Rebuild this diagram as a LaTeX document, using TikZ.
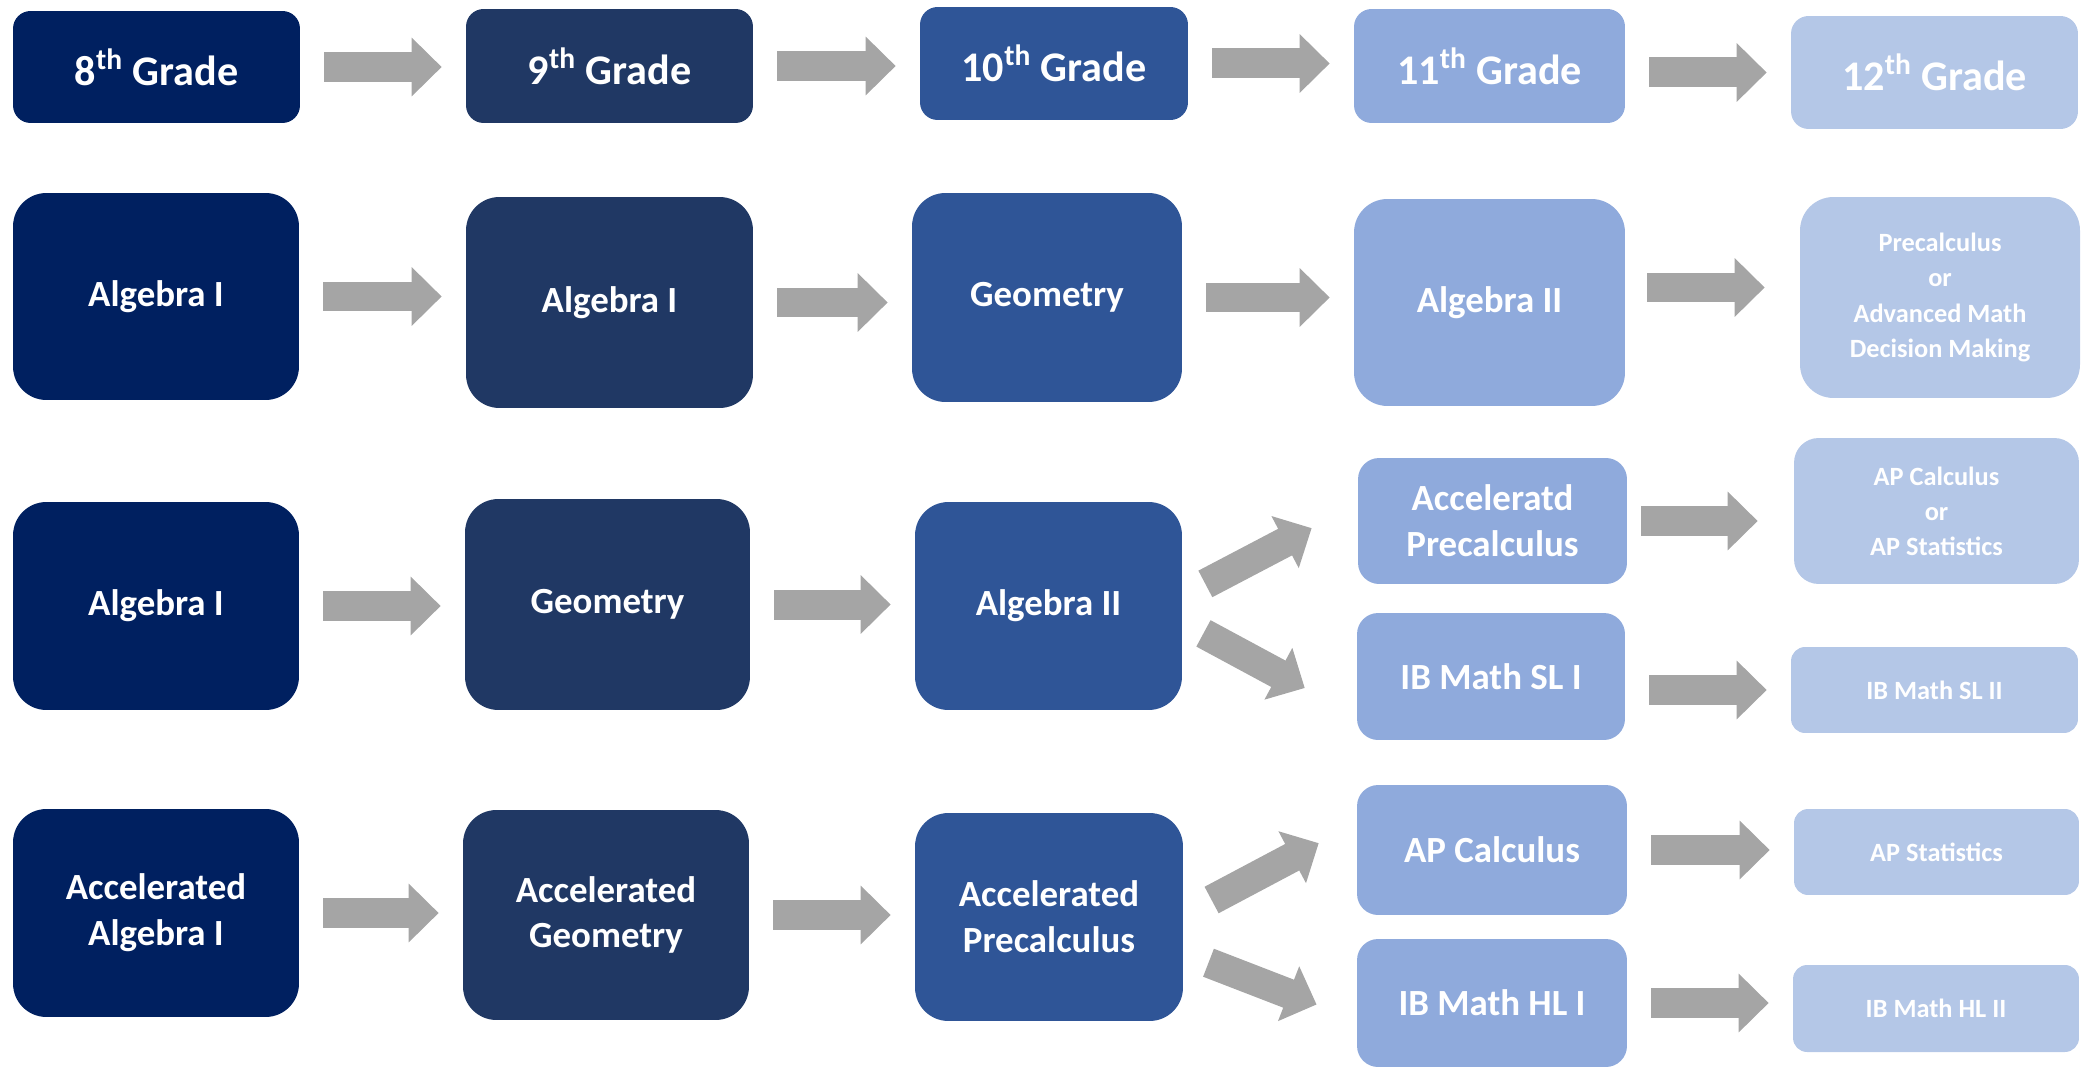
\documentclass[tikz,border=0pt]{standalone}
\usepackage{fontspec}
\setmainfont{Carlito}
\usetikzlibrary{arrows.meta}
\definecolor{navy}{HTML}{002060}
\definecolor{slateblue}{HTML}{203864}
\definecolor{midblue}{HTML}{2F5597}
\definecolor{lightblue}{HTML}{8FAADC}
\definecolor{paleblue}{HTML}{B4C7E7}
\definecolor{arrowgray}{HTML}{A5A5A5}

\begin{document}
\begin{tikzpicture}[x=0.02cm,y=-0.02cm,
  box/.style={text=white,align=center,inner sep=2pt},
  grade/.style={box,rounded corners=10pt,font=\bfseries\fontsize{24}{29}\selectfont},
  course/.style={box,rounded corners=19pt,font=\bfseries\fontsize{21}{26}\selectfont},
  halfcourse/.style={box,rounded corners=12pt,font=\bfseries\fontsize{21}{26}\selectfont},
  senior/.style={box,rounded corners=#1,font=\bfseries\fontsize{15}{20}\selectfont},
  blockarrow/.style={draw=arrowgray,line width=0.6cm,-{Triangle[length=0.6cm,width=1.14cm]},
    shorten <=0.48cm,shorten >=0.48cm}]
\useasboundingbox (0,0) rectangle (2082,1067);

% grade headers
\node[grade,fill=navy,minimum width=5.74cm,minimum height=2.24cm] (g8) at (156.5,67) {8\textsuperscript{th} Grade};
\node[grade,fill=slateblue,minimum width=5.74cm,minimum height=2.28cm] (g9) at (609.5,66) {9\textsuperscript{th} Grade};
\node[grade,fill=midblue,minimum width=5.36cm,minimum height=2.26cm] (g10) at (1054,63.5) {10\textsuperscript{th} Grade};
\node[grade,fill=lightblue,minimum width=5.42cm,minimum height=2.28cm] (g11) at (1489.5,66) {11\textsuperscript{th} Grade};
\node[grade,fill=paleblue,minimum width=5.74cm,minimum height=2.26cm] (g12) at (1934.5,72.5) {12\textsuperscript{th} Grade};

% track 1
\node[course,fill=navy,minimum width=5.72cm,minimum height=4.14cm] (r2c1) at (156,296.5) {Algebra I};
\node[course,fill=slateblue,minimum width=5.74cm,minimum height=4.22cm] (r2c2) at (609.5,302.5) {Algebra I};
\node[course,fill=midblue,minimum width=5.4cm,minimum height=4.18cm] (r2c3) at (1047,297.5) {Geometry};
\node[course,fill=lightblue,minimum width=5.42cm,minimum height=4.14cm] (r2c4) at (1489.5,302.5) {Algebra II};
\node[senior=19pt,fill=paleblue,minimum width=5.6cm,minimum height=4.02cm] (r2c5) at (1940,297.5) {Precalculus\\or\\Advanced Math\\Decision Making};

% track 2
\node[course,fill=navy,minimum width=5.72cm,minimum height=4.16cm] (r3c1) at (156,606) {Algebra I};
\node[course,fill=slateblue,minimum width=5.7cm,minimum height=4.22cm] (r3c2) at (607.5,604.5) {Geometry};
\node[course,fill=midblue,minimum width=5.34cm,minimum height=4.16cm] (r3c3) at (1048.5,606) {Algebra II};
\node[halfcourse,fill=lightblue,minimum width=5.38cm,minimum height=2.52cm] (r3c4a) at (1492.5,521) {Acceleratd\\Precalculus};
\node[halfcourse,fill=lightblue,minimum width=5.36cm,minimum height=2.54cm] (r3c4b) at (1491,676.5) {IB Math SL I};
\node[senior=14pt,fill=paleblue,minimum width=5.7cm,minimum height=2.92cm] (r3c5a) at (1936.5,511) {AP Calculus\\or\\AP Statistics};
\node[senior=8pt,fill=paleblue,minimum width=5.74cm,minimum height=1.72cm] (r3c5b) at (1934.5,690) {IB Math SL II};

% track 3
\node[course,fill=navy,minimum width=5.72cm,minimum height=4.16cm] (r4c1) at (156,913) {Accelerated\\Algebra I};
\node[course,fill=slateblue,minimum width=5.72cm,minimum height=4.2cm] (r4c2) at (606,915) {Accelerated\\Geometry};
\node[course,fill=midblue,minimum width=5.36cm,minimum height=4.16cm] (r4c3) at (1049,917) {Accelerated\\Precalculus};
\node[halfcourse,fill=lightblue,minimum width=5.4cm,minimum height=2.6cm] (r4c4a) at (1492,850) {AP Calculus};
\node[halfcourse,fill=lightblue,minimum width=5.4cm,minimum height=2.56cm] (r4c4b) at (1492,1003) {IB Math HL I};
\node[senior=8pt,fill=paleblue,minimum width=5.7cm,minimum height=1.72cm] (r4c5a) at (1936.5,852) {AP Statistics};
\node[senior=8pt,fill=paleblue,minimum width=5.72cm,minimum height=1.74cm] (r4c5b) at (1936,1008.5) {IB Math HL II};

% arrows
\draw[blockarrow] (g8.east) -- (g8.east -| g9.west);
\draw[blockarrow] (g9.east) -- (g9.east -| g10.west);
\draw[blockarrow] (g10.east) -- (g10.east -| g11.west);
\draw[blockarrow] (g12.west -| g11.east) -- (g12.west);

\draw[blockarrow] (r2c1.east) -- (r2c1.east -| r2c2.west);
\draw[blockarrow] (r2c2.east) -- (r2c2.east -| r2c3.west);
\draw[blockarrow] (r2c3.east) -- (r2c3.east -| r2c4.west);
\draw[blockarrow,shorten <=0.44cm,shorten >=0.7cm,transform canvas={yshift=0.3cm}] (r2c4.east) -- (r2c4.east -| r2c5.west);

\draw[blockarrow] (r3c1.east) -- (r3c1.east -| r3c2.west);
\draw[blockarrow] (r3c2.east) -- (r3c2.east -| r3c3.west);
\draw[blockarrow,shorten <=0.52cm,shorten >=1.04cm] ([yshift=0.2cm]r3c3.east) -- ([yshift=0.34cm]r3c4a.west);
\draw[blockarrow,shorten <=0.48cm,shorten >=1.18cm] ([yshift=-0.32cm]r3c3.east) -- ([yshift=-0.79cm]r3c4b.west);
\draw[blockarrow,shorten <=0.28cm,shorten >=0.72cm] (r3c4a.east) -- (r3c4a.east -| r3c5a.west);
\draw[blockarrow] (r3c5b.west -| r3c4b.east) -- (r3c5b.west);

\draw[blockarrow] (r4c1.east) -- (r4c1.east -| r4c2.west);
\draw[blockarrow] (r4c2.east) -- (r4c2.east -| r4c3.west);
\draw[blockarrow,shorten <=0.64cm,shorten >=0.86cm] ([yshift=0.04cm]r4c3.east) -- ([yshift=0.54cm]r4c4a.west);
\draw[blockarrow,shorten <=0.54cm,shorten >=0.86cm] ([yshift=-0.72cm]r4c3.east) -- ([yshift=-0.34cm]r4c4b.west);
\draw[blockarrow] (r4c4a.east) -- (r4c4a.east -| r4c5a.west);
\draw[blockarrow] (r4c4b.east) -- (r4c4b.east -| r4c5b.west);

\end{tikzpicture}
\end{document}
